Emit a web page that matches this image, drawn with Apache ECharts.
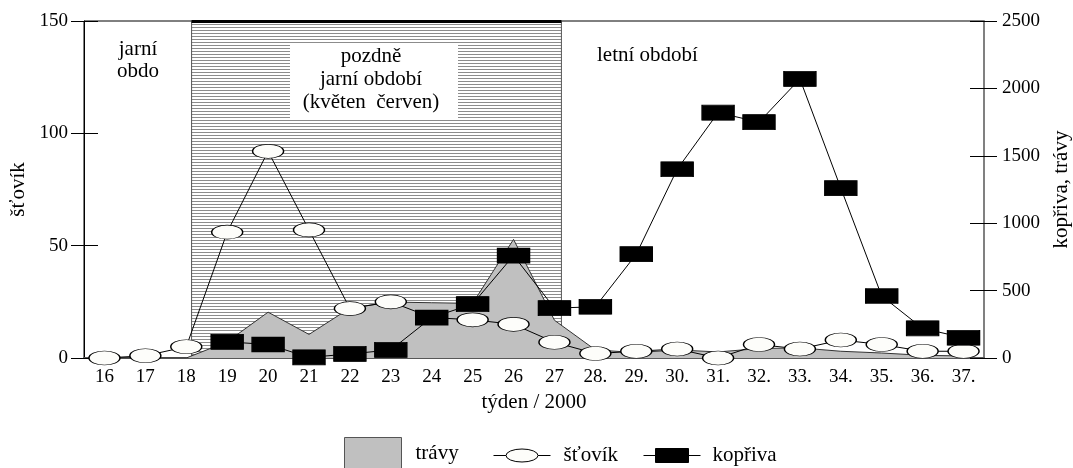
<!DOCTYPE html>
<html>
<head>
<meta charset="utf-8">
<script src="https://cdn.jsdelivr.net/npm/echarts@6/dist/echarts.min.js"></script>
<style>
  html, body { margin: 0; padding: 0; background: #fff; }
  #chart { width: 1073px; height: 468px; }
</style>
</head>
<body>
<div id="chart"></div>
<script>
// weeks of 2000
const weeks = ['16', '17', '18', '19', '20', '21', '22', '23', '24', '25', '26', '27',
  '28.', '29.', '30.', '31.', '32.', '33.', '34.', '35.', '36.', '37.'];
// šťovík (left axis)
const stovik = [0, 1, 5, 56, 92, 57, 22, 25, 18, 17, 15, 7, 2, 3, 4, 0, 6, 4, 8, 6, 3, 3];
// kopřiva (right axis)
const kopriva = [null, null, null, 120, 100, 5, 30, 60, 300, 400, 760, 370, 380, 770,
  1400, 1820, 1750, 2070, 1260, 460, 220, 150];
// trávy (right axis)
const travy = [0, 0, 0, 120, 340, 175, 370, 415, 410, 405, 880, 280, 60, 40, 60, 45,
  70, 75, 50, 37, 20, 15];
// late spring period, in week units
const lateSpring = [18.13, 27.17];

const FONT = 'Liberation Serif';
const NUM_SIZE = 19;
const TEXT_SIZE = 21;

// horizontal hatch for the late spring block
const hatch = document.createElement('canvas');
hatch.width = 4;
hatch.height = 3;
const hctx = hatch.getContext('2d');
hctx.fillStyle = '#ffffff';
hctx.fillRect(0, 0, 4, 3);
hctx.fillStyle = '#8c8c8c';
hctx.fillRect(0, 0, 4, 1);

const leftAxisBase = {
  type: 'value', position: 'left', min: 0, max: 150, interval: 50,
  splitLine: { show: false }
};
const rightAxisBase = {
  type: 'value', position: 'right', min: 0, max: 2500, interval: 500,
  splitLine: { show: false }
};

const myChart = echarts.init(document.getElementById('chart'));

const option = {
  animation: false,
  textStyle: { fontFamily: FONT, color: '#000' },
  grid: {
    left: 84, right: 89, top: 21, bottom: 110,
    containLabel: false, outerBoundsMode: 'none',
    show: true, borderColor: '#000', borderWidth: 1
  },
  xAxis: [
    {
      type: 'category',
      data: weeks,
      boundaryGap: true,
      name: 'týden / 2000',
      nameLocation: 'middle',
      nameGap: 33,
      nameTextStyle: { fontSize: TEXT_SIZE, fontFamily: FONT, color: '#000' },
      axisLine: { lineStyle: { color: '#5a5a5a', width: 2 } },
      axisTick: { alignWithLabel: true, length: 5, lineStyle: { color: '#444' } },
      axisLabel: { fontSize: NUM_SIZE, fontFamily: FONT, color: '#000', margin: 10, interval: 0 }
    },
    {
      type: 'value', min: 15.5, max: 37.5, show: false
    }
  ],
  yAxis: [
    Object.assign({}, leftAxisBase, {
      name: 'šťovík',
      nameLocation: 'middle',
      nameRotate: 90,
      nameGap: 53,
      nameTextStyle: { fontSize: TEXT_SIZE, fontFamily: FONT, color: '#000' },
      axisLine: { show: true, lineStyle: { color: '#000', width: 1 } },
      axisTick: { show: true, length: 13, lineStyle: { color: '#000' } },
      axisLabel: { fontSize: NUM_SIZE, fontFamily: FONT, color: '#000', margin: 16 }
    }),
    Object.assign({}, rightAxisBase, {
      name: 'kopřiva, trávy',
      nameLocation: 'middle',
      nameRotate: 90,
      nameGap: 63,
      nameTextStyle: { fontSize: TEXT_SIZE, fontFamily: FONT, color: '#000' },
      axisLine: { show: true, lineStyle: { color: '#808080', width: 2 } },
      axisTick: { show: true, length: 13, lineStyle: { color: '#000' } },
      axisLabel: {
        fontSize: NUM_SIZE, fontFamily: FONT, color: '#000', margin: 18,
        formatter: (v) => String(v)
      }
    }),
    // inner halves of the crossing ticks
    Object.assign({}, leftAxisBase, {
      axisLine: { show: false },
      axisTick: { show: true, inside: true, length: 14, lineStyle: { color: '#000' } },
      axisLabel: { show: false }
    }),
    Object.assign({}, rightAxisBase, {
      axisLine: { show: false },
      axisTick: { show: true, inside: true, length: 14, lineStyle: { color: '#000' } },
      axisLabel: { show: false }
    })
  ],
  legend: [
    {
      data: ['trávy'], left: 344, top: 437, padding: 0, itemWidth: 57, itemHeight: 31,
      selectedMode: false, icon: 'rect',
      itemStyle: { color: '#c0c0c0', borderColor: '#555', borderWidth: 1 },
      textStyle: { fontSize: TEXT_SIZE, fontFamily: FONT, color: '#000', padding: [0, 0, 0, 9] }
    },
    {
      data: ['šťovík'], left: 493, top: 445, padding: 0, itemWidth: 57, itemHeight: 13,
      selectedMode: false,
      icon: 'path://M0,6.5L12.5,6.5M44.5,6.5L57,6.5M12.5,6.5A16,6.5,0,1,1,44.5,6.5A16,6.5,0,1,1,12.5,6.5Z',
      itemStyle: { color: '#fdfdfa', borderColor: '#000', borderWidth: 1 },
      textStyle: { fontSize: TEXT_SIZE, fontFamily: FONT, color: '#000', padding: [0, 0, 0, 8] }
    },
    {
      data: ['kopřiva'], left: 643, top: 445, padding: 0, itemWidth: 57, itemHeight: 14,
      selectedMode: false,
      icon: 'path://M0,7L12,7M45,7L57,7M12,0L45,0L45,14L12,14Z',
      itemStyle: { color: '#000', borderColor: '#000', borderWidth: 1 },
      textStyle: { fontSize: TEXT_SIZE, fontFamily: FONT, color: '#000', padding: [0, 0, 0, 7] }
    }
  ],
  graphic: [
    {
      type: 'text', x: 138, y: 38, z: 50,
      style: { text: 'jarní\nobdo', fontSize: TEXT_SIZE, fontFamily: FONT, fill: '#000',
        textAlign: 'center', align: 'center', lineHeight: 22 }
    },
    {
      type: 'rect', left: 290, top: 43, z: 50,
      shape: { width: 168, height: 76 },
      style: { fill: '#fff' }
    },
    {
      type: 'text', x: 371, y: 45, z: 51,
      style: { text: 'pozdně\njarní období\n(květen  červen)', fontSize: TEXT_SIZE,
        fontFamily: FONT, fill: '#000', textAlign: 'center', align: 'center', lineHeight: 23 }
    },
    {
      type: 'text', x: 597, y: 45, z: 50,
      style: { text: 'letní období', fontSize: TEXT_SIZE, fontFamily: FONT, fill: '#000' }
    }
  ],
  series: [
    {
      // late spring block
      name: 'period',
      type: 'line',
      xAxisIndex: 1,
      yAxisIndex: 0,
      data: [],
      z: 1,
      silent: true,
      markArea: {
        silent: true,
        itemStyle: { color: { image: hatch, repeat: 'repeat' }, borderColor: '#555', borderWidth: 1 },
        data: [[{ coord: [lateSpring[0], 0] }, { coord: [lateSpring[1], 150] }]]
      },
      markLine: {
        silent: true,
        symbol: 'none',
        label: { show: false },
        lineStyle: { color: '#000', width: 3, type: 'solid' },
        data: [[{ coord: [lateSpring[0], 150] }, { coord: [lateSpring[1], 150] }]]
      }
    },
    {
      name: 'trávy',
      type: 'line',
      yAxisIndex: 1,
      data: travy,
      z: 2,
      symbol: 'none',
      itemStyle: { color: '#c0c0c0' },
      lineStyle: { color: '#333', width: 1 },
      areaStyle: { color: '#c0c0c0', opacity: 1 }
    },
    {
      name: 'šťovík',
      type: 'line',
      yAxisIndex: 0,
      data: stovik,
      z: 3,
      symbol: 'circle',
      symbolSize: [31, 14],
      showAllSymbol: true,
      itemStyle: { color: '#fdfdfa', borderColor: '#000', borderWidth: 1 },
      lineStyle: { color: '#000', width: 1 }
    },
    {
      name: 'kopřiva',
      type: 'line',
      yAxisIndex: 1,
      data: kopriva,
      z: 4,
      symbol: 'rect',
      symbolSize: [32, 15],
      showAllSymbol: true,
      itemStyle: { color: '#000', borderColor: '#000', borderWidth: 1 },
      lineStyle: { color: '#000', width: 1 }
    }
  ]
};

myChart.setOption(option);
</script>
</body>
</html>
